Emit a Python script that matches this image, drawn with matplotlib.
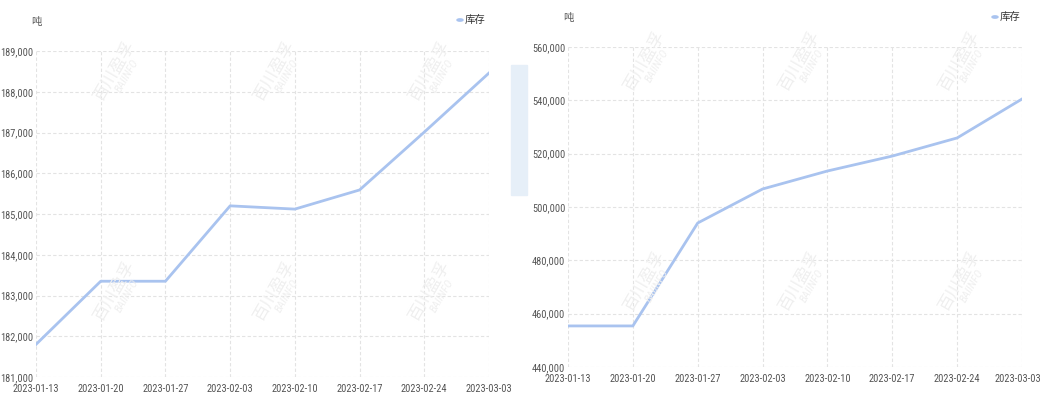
import matplotlib
matplotlib.use("Agg")
import matplotlib.pyplot as plt
import matplotlib.transforms as mtransforms
from matplotlib.patches import Rectangle
from matplotlib import font_manager

dates = ["2023-01-13", "2023-01-20", "2023-01-27", "2023-02-03",
         "2023-02-10", "2023-02-17", "2023-02-24", "2023-03-03"]
left_values = [181800, 183350, 183350, 185200, 185120, 185590, 187010, 188460]
right_values = [455400, 455400, 494000, 506750, 513500, 519100, 525900, 540500]
left_yticks = [181000, 182000, 183000, 184000, 185000, 186000, 187000, 188000, 189000]
right_yticks = [440000, 460000, 480000, 500000, 520000, 540000, 560000]
unit = "吨"
series_name = "库存"

avail = {f.name for f in font_manager.fontManager.ttflist}
narrow = "DejaVu Sans"
for cand in ["Liberation Sans Narrow", "Roboto Condensed", "Archivo Narrow",
             "PT Sans Narrow", "Open Sans Condensed", "Encode Sans Condensed"]:
    if cand in avail:
        narrow = cand
        break
plt.rcParams['font.family'] = [narrow, 'Noto Sans CJK SC', 'DejaVu Sans']

W, H = 1043, 401
fig = plt.figure(figsize=(W / 100, H / 100), dpi=100)
fig.patch.set_facecolor("white")

line_color = "#a9c3ef"
grid_color = "#e3e3e3"
text_color = "#555555"

# light blue decoration between panels
fig.patches.append(Rectangle((511 / W, 1 - 195 / H), 16 / W, 130 / H,
                             transform=fig.transFigure, color="#e6eff8", zorder=0))

def px_axes(x0, y0, x1, y1):
    return fig.add_axes([x0 / W, 1 - y1 / H, (x1 - x0) / W, (y1 - y0) / H])

def style(ax, values, yticks, unit_xy, legend_xy, last_shift=0):
    x = list(range(len(dates)))
    ax.plot(x, values, color=line_color, lw=2, solid_joinstyle="round", zorder=3)
    ax.set_xlim(0, len(dates) - 1)
    ax.set_ylim(yticks[0], yticks[-1])
    ax.set_xticks(x)
    ax.set_xticklabels(dates)
    ax.set_yticks(yticks)
    ax.set_yticklabels([f"{v:,}" for v in yticks])
    ax.tick_params(length=0, labelsize=7.5, colors=text_color)
    ax.tick_params(axis="y", pad=2)
    ax.tick_params(axis="x", pad=5)
    if last_shift:
        lbl = ax.get_xticklabels()[-1]
        lbl.set_transform(lbl.get_transform() +
                          mtransforms.ScaledTranslation(last_shift / 100, 0, fig.dpi_scale_trans))
    for s in ax.spines.values():
        s.set_visible(False)
    ax.grid(True, color=grid_color, lw=0.8, ls=(0, (3, 2)))
    ax.set_axisbelow(True)
    fig.text(unit_xy[0] / W, 1 - unit_xy[1] / H, unit, fontsize=7.5,
             color=text_color, ha="center", va="center",
             family=['Noto Sans CJK SC', 'DejaVu Sans'])
    fig.patches.append(plt.Circle((legend_xy[0] / W, 1 - legend_xy[1] / H), 3.0 / W,
                                  transform=fig.transFigure, color=line_color))
    fig.text((legend_xy[0] + 5) / W, 1 - legend_xy[1] / H, series_name, fontsize=7.5,
             color="#333333", ha="left", va="center",
             family=['Noto Sans CJK SC', 'DejaVu Sans'])

axL = px_axes(36, 51, 489, 377)
style(axL, left_values, left_yticks, (36, 22), (460, 20))
axR = px_axes(568, 47, 1022, 367)
style(axR, right_values, right_yticks, (568, 18), (995, 17), last_shift=-4)

# watermarks
wm_positions = [(115, 70), (275, 70), (430, 70), (115, 290), (275, 290), (430, 290),
                (645, 60), (800, 60), (960, 60), (645, 280), (800, 280), (960, 280)]
for (wx, wy) in wm_positions:
    fig.text(wx / W, 1 - wy / H, "百川盈孚", fontsize=12, color="#efefef",
             rotation=60, ha="center", va="center", zorder=1,
             family=['Noto Sans CJK SC', 'DejaVu Sans'])
    fig.text((wx + 12) / W, 1 - (wy + 6) / H, "BAIINFO", fontsize=8, color="#efefef",
             rotation=60, ha="center", va="center", zorder=1, style="italic")

fig.savefig("out.png", dpi=100, facecolor="white")
